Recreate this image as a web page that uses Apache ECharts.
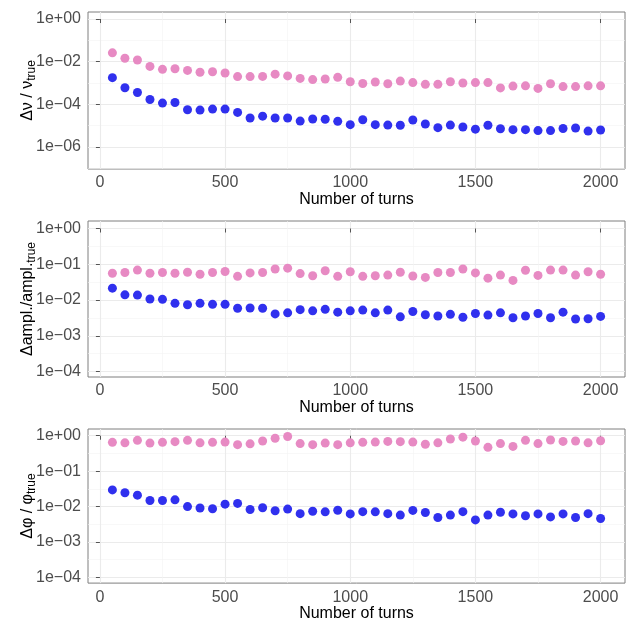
<!DOCTYPE html>
<html>
<head>
<meta charset="utf-8">
<script src="https://cdn.jsdelivr.net/npm/echarts@6/dist/echarts.min.js"></script>
<style>
    html, body { margin: 0; padding: 0; background: #fff; }
    #myChart { width: 629px; height: 623px; }
</style>
</head>
<body>
<div id="myChart"></div>
<script>
"use strict";

// 横轴: number of turns
var turns = [50, 100, 150, 200, 250, 300, 350, 400, 450, 500,
    550, 600, 650, 700, 750, 800, 850, 900, 950, 1000,
    1050, 1100, 1150, 1200, 1250, 1300, 1350, 1400, 1450, 1500,
    1550, 1600, 1650, 1700, 1750, 1800, 1850, 1900, 1950, 2000];

// panel 1: tune error
var tunePink = [2.6e-2, 1.45e-2, 1.2e-2, 6.0e-3, 4.4e-3, 4.7e-3, 3.9e-3, 3.2e-3, 3.4e-3, 2.95e-3,
    2.0e-3, 2.0e-3, 2.05e-3, 2.6e-3, 2.15e-3, 1.65e-3, 1.45e-3, 1.55e-3, 1.85e-3, 1.15e-3,
    9.5e-4, 1.12e-3, 9.3e-4, 1.23e-3, 1.05e-3, 8.7e-4, 8.7e-4, 1.15e-3, 1.0e-3, 1.05e-3,
    1.05e-3, 5.9e-4, 7.2e-4, 7.4e-4, 5.6e-4, 9.3e-4, 6.8e-4, 6.8e-4, 7.4e-4, 7.4e-4];
var tuneBlue = [1.78e-3, 6.0e-4, 3.6e-4, 1.7e-4, 1.15e-4, 1.23e-4, 5.6e-5, 5.4e-5, 6.0e-5, 6.0e-5,
    4.2e-5, 2.3e-5, 2.8e-5, 2.3e-5, 2.3e-5, 1.65e-5, 2.05e-5, 2.0e-5, 1.6e-5, 1.12e-5,
    1.9e-5, 1.12e-5, 1.07e-5, 1.05e-5, 1.85e-5, 1.2e-5, 8.1e-6, 1.07e-5, 8.7e-6, 6.9e-6,
    1.05e-5, 7.2e-6, 6.5e-6, 6.5e-6, 5.9e-6, 5.9e-6, 7.4e-6, 7.8e-6, 5.6e-6, 6.3e-6];

// panel 2: amplitude error
var amplPink = [5.6e-2, 5.9e-2, 6.9e-2, 5.6e-2, 5.9e-2, 5.6e-2, 6.0e-2, 5.25e-2, 5.9e-2, 6.3e-2,
    4.6e-2, 5.75e-2, 5.9e-2, 7.4e-2, 7.8e-2, 5.5e-2, 4.8e-2, 6.6e-2, 4.6e-2, 6.2e-2,
    4.6e-2, 4.8e-2, 5.0e-2, 6.0e-2, 4.7e-2, 4.3e-2, 5.9e-2, 5.9e-2, 7.4e-2, 5.75e-2,
    4.1e-2, 5.0e-2, 3.55e-2, 6.8e-2, 4.9e-2, 6.9e-2, 6.9e-2, 5.0e-2, 6.2e-2, 5.25e-2];
var amplBlue = [2.15e-2, 1.4e-2, 1.38e-2, 1.07e-2, 1.05e-2, 8.1e-3, 7.4e-3, 8.1e-3, 7.6e-3, 7.6e-3,
    5.9e-3, 6.0e-3, 5.9e-3, 4.1e-3, 4.4e-3, 5.4e-3, 5.0e-3, 5.5e-3, 4.6e-3, 5.0e-3,
    5.25e-3, 4.4e-3, 5.25e-3, 3.4e-3, 4.8e-3, 3.9e-3, 3.6e-3, 4.0e-3, 3.3e-3, 4.2e-3,
    3.8e-3, 4.4e-3, 3.2e-3, 3.6e-3, 4.2e-3, 3.2e-3, 4.6e-3, 2.95e-3, 3.0e-3, 3.5e-3];

// panel 3: phase error
var phasePink = [0.65, 0.63, 0.74, 0.62, 0.65, 0.68, 0.74, 0.63, 0.65, 0.66,
    0.56, 0.59, 0.71, 0.85, 0.95, 0.60, 0.56, 0.62, 0.56, 0.63,
    0.65, 0.66, 0.69, 0.68, 0.66, 0.575, 0.63, 0.81, 0.91, 0.71,
    0.47, 0.60, 0.50, 0.74, 0.60, 0.76, 0.69, 0.71, 0.63, 0.72];
var phaseBlue = [2.95e-2, 2.45e-2, 2.1e-2, 1.48e-2, 1.48e-2, 1.55e-2, 1.0e-2, 9.1e-3, 8.7e-3, 1.17e-2,
    1.23e-2, 8.3e-3, 9.3e-3, 7.6e-3, 8.5e-3, 6.3e-3, 7.4e-3, 7.1e-3, 7.9e-3, 6.2e-3,
    7.2e-3, 7.1e-3, 6.3e-3, 5.75e-3, 7.8e-3, 6.8e-3, 4.9e-3, 5.75e-3, 7.2e-3, 4.2e-3,
    5.75e-3, 6.9e-3, 6.2e-3, 5.5e-3, 6.2e-3, 5.1e-3, 6.2e-3, 4.9e-3, 6.3e-3, 4.6e-3];

// 刻度
var xTicks = [0, 500, 1000, 1500, 2000];
var xMinorTicks = [250, 750, 1250, 1750];
var yTicksTune = [1e-6, 1e-4, 1e-2, 1];
var yMinorTune = [1e-7, 1e-5, 1e-3, 1e-1];
var yTicksOther = [1e-4, 1e-3, 1e-2, 1e-1, 1];
var yMinorOther = [Math.sqrt(1e-7), Math.sqrt(1e-5), Math.sqrt(1e-3), Math.sqrt(1e-1)];

var FONT = "'Liberation Sans', Arial, sans-serif";
var PINK = '#E78AC3';
var BLUE = '#3030EE';

function expLabel(v) {
    var e = Math.round(v);
    var a = Math.abs(e);
    return '1e' + (e < 0 ? '\u2212' : '+') + (a < 10 ? '0' : '') + a;
}

function logs(arr) {
    return arr.map(function (v) { return Math.log10(v); });
}

function points(values) {
    return turns.map(function (t, i) { return [t, Math.log10(values[i])]; });
}

var panels = [
    {top: 12, height: 157, ymin: -7.03, ymax: 0.33, ticks: yTicksTune, minor: yMinorTune,
        name: '{m|\u0394\u03bd / \u03bd}{s|true}', pink: tunePink, blue: tuneBlue},
    {top: 221, height: 156, ymin: -4.15, ymax: 0.21, ticks: yTicksOther, minor: yMinorOther,
        name: '{m|\u0394ampl./ampl.}{s|true}', pink: amplPink, blue: amplBlue},
    {top: 429, height: 156, ymin: -4.16, ymax: 0.19, ticks: yTicksOther, minor: yMinorOther,
        name: '{m|\u0394\u03c6 / \u03c6}{s|true}', pink: phasePink, blue: phaseBlue}
];

var option = {
    animation: false,
    backgroundColor: '#fff',
    grid: [], xAxis: [], yAxis: [], series: []
};

panels.forEach(function (p, i) {
    option.grid.push({
        left: 88, right: 4, top: p.top, height: p.height,
        show: true, borderColor: '#7f7f7f', borderWidth: 1, backgroundColor: '#fff'
    });
    // 主横轴
    option.xAxis.push({
        type: 'value', gridIndex: i, min: -47.5, max: 2097.5, position: 'bottom',
        name: 'Number of turns', nameLocation: 'middle', nameGap: 21,
        nameTextStyle: {fontFamily: FONT, fontSize: 16, color: '#000'},
        axisLine: {show: false},
        axisTick: {show: true, length: 4, customValues: xTicks, lineStyle: {color: '#555'}},
        axisLabel: {customValues: xTicks, margin: 6, fontFamily: FONT, fontSize: 16, color: '#4d4d4d',
            formatter: function (v) { return String(v); }},
        splitLine: {show: true, lineStyle: {color: '#ebebeb', width: 1.1}}
    });
    // 次网格线
    option.xAxis.push({
        type: 'value', gridIndex: i, min: -47.5, max: 2097.5,
        axisLine: {show: false}, axisLabel: {show: false},
        axisTick: {show: false, customValues: xMinorTicks},
        splitLine: {show: true, lineStyle: {color: '#f4f4f4', width: 0.6}}
    });
    option.yAxis.push({
        type: 'value', gridIndex: i, min: p.ymin, max: p.ymax, position: 'left',
        name: p.name, nameLocation: 'middle', nameRotate: 90, nameGap: 50, nameMoveOverlap: false,
        nameTextStyle: {
            fontFamily: FONT, color: '#000',
            rich: {
                m: {fontFamily: FONT, fontSize: 16, color: '#000', lineHeight: 18, padding: [0, 0, 2, 0], verticalAlign: 'bottom'},
                s: {fontFamily: FONT, fontSize: 12, color: '#000', lineHeight: 13, verticalAlign: 'bottom'}
            }
        },
        axisLine: {show: false},
        axisTick: {show: true, length: 4, customValues: logs(p.ticks), lineStyle: {color: '#555'}},
        axisLabel: {customValues: logs(p.ticks), margin: 7, fontFamily: FONT, fontSize: 16, color: '#4d4d4d',
            formatter: expLabel},
        splitLine: {show: true, lineStyle: {color: '#ebebeb', width: 1.1}}
    });
    option.yAxis.push({
        type: 'value', gridIndex: i, min: p.ymin, max: p.ymax,
        axisLine: {show: false}, axisLabel: {show: false},
        axisTick: {show: false, customValues: logs(p.minor)},
        splitLine: {show: true, lineStyle: {color: '#f4f4f4', width: 0.6}}
    });
    option.series.push({
        type: 'scatter', xAxisIndex: 2 * i, yAxisIndex: 2 * i,
        symbolSize: 9, itemStyle: {color: PINK, opacity: 1},
        data: points(p.pink)
    });
    option.series.push({
        type: 'scatter', xAxisIndex: 2 * i, yAxisIndex: 2 * i,
        symbolSize: 9, itemStyle: {color: BLUE, opacity: 1},
        data: points(p.blue)
    });
});

var myChart = echarts.init(document.getElementById('myChart'));
myChart.setOption(option);
</script>
</body>
</html>
